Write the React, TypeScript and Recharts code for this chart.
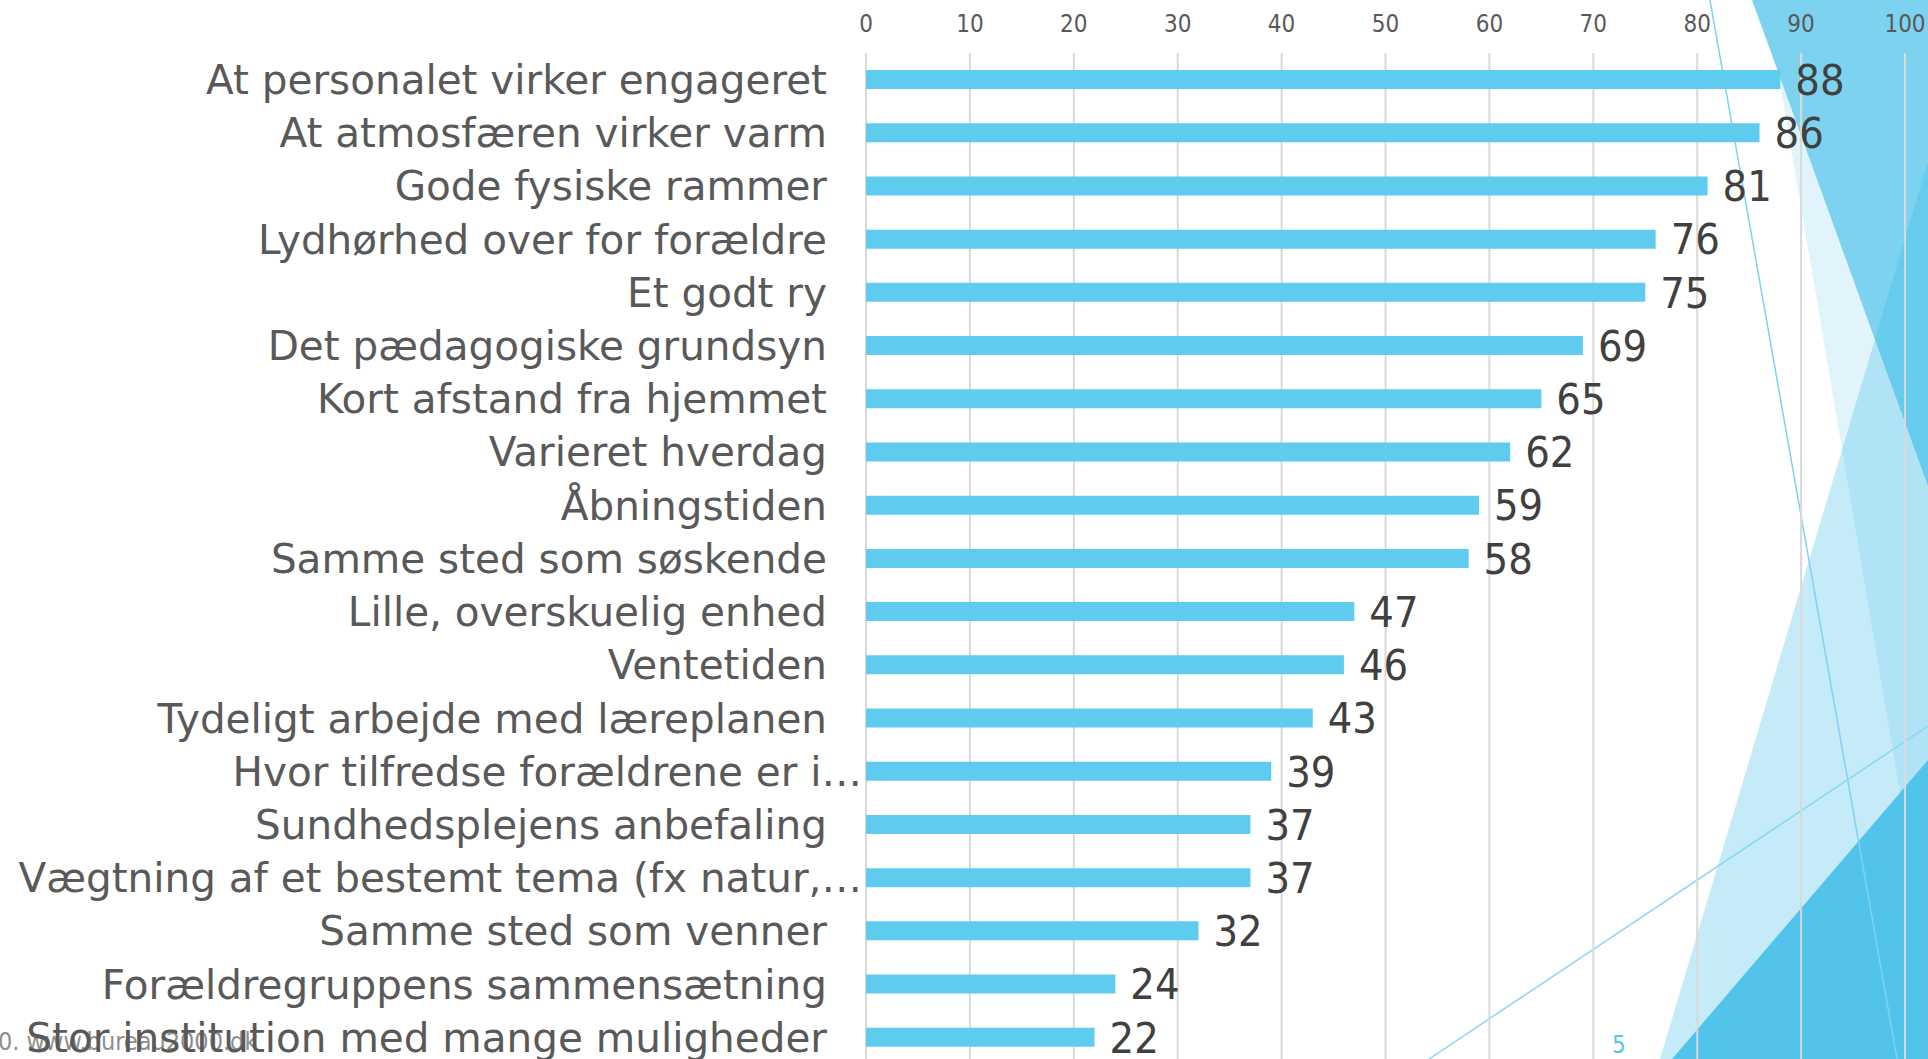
import { BarChart, Bar, XAxis, YAxis, CartesianGrid, LabelList } from 'recharts';

const categories = [
  'At personalet virker engageret',
  'At atmosfæren virker varm',
  'Gode fysiske rammer',
  'Lydhørhed over for forældre',
  'Et godt ry',
  'Det pædagogiske grundsyn',
  'Kort afstand fra hjemmet',
  'Varieret hverdag',
  'Åbningstiden',
  'Samme sted som søskende',
  'Lille, overskuelig enhed',
  'Ventetiden',
  'Tydeligt arbejde med læreplanen',
  'Hvor tilfredse forældrene er i…',
  'Sundhedsplejens anbefaling',
  'Vægtning af et bestemt tema (fx natur,…',
  'Samme sted som venner',
  'Forældregruppens sammensætning',
  'Stor institution med mange muligheder',
];

const values = [88, 86, 81, 76, 75, 69, 65, 62, 59, 58, 47, 46, 43, 39, 37, 37, 32, 24, 22];

const xTicks = [0, 10, 20, 30, 40, 50, 60, 70, 80, 90, 100];

const data = categories.map((label, i) => ({ label, value: values[i] }));

const LABEL_FONT = 'DejaVu Sans, sans-serif';
const NARROW_FONT = '"DejaVu Sans Condensed", "DejaVu Sans", sans-serif';

// category label; the clipped (…) labels sit a bit further right, as in the slide
function CategoryTick(props: any) {
  const { x, y, payload } = props;
  const clipped = String(payload.value).endsWith('…');
  return (
    <text
      x={x + (clipped ? 35 : 0)}
      y={y}
      dy="0.355em"
      textAnchor="end"
      fill="#595959"
      fontSize={40.5}
      fontFamily={LABEL_FONT}
    >
      {payload.value}
    </text>
  );
}

function ValueLabel(props: any) {
  const { x, y, width, height, value } = props;
  return (
    <text
      x={x + width + 15}
      y={y + height / 2}
      dy="0.355em"
      textAnchor="start"
      fill="#404040"
      fontSize={43}
      fontFamily={NARROW_FONT}
    >
      {value}
    </text>
  );
}

// slide theme background (facets on the right)
function Backdrop() {
  return (
    <svg width={1928} height={1059} style={{ position: 'absolute', left: 0, top: 0 }}>
      <polygon points="1766,0 1928,0 1928,958" fill="#c8ebf8" fillOpacity={0.55} />
      <polygon points="1752,0 1928,0 1928,486" fill="#7dd3ef" />
      <polygon points="1660,1059 1928,162 1928,1059" fill="rgb(40,181,230)" fillOpacity={0.27} />
      <polygon points="1672,1059 1928,760 1928,1059" fill="#52c3eb" />
      <line x1={1710} y1={0} x2={1897} y2={1059} stroke="#7fd3f1" strokeWidth={1.5} />
      <line x1={1429} y1={1059} x2={1928} y2={726} stroke="#8ad7f3" strokeWidth={1.5} />
      <text x={-2} y={1050} fill="#8e8e8e" fontSize={25} fontFamily={NARROW_FONT}>
        0. www.bureau2000.dk
      </text>
      <text x={1612} y={1053} fill="#5bc5ec" fontSize={24} fontFamily={NARROW_FONT}>
        5
      </text>
    </svg>
  );
}

export default function App() {
  return (
    <div
      style={{
        position: 'absolute',
        left: 0,
        top: 0,
        width: 1928,
        height: 1059,
        overflow: 'hidden',
        background: '#ffffff',
      }}
    >
      <Backdrop />
      <div style={{ position: 'absolute', left: 0, top: 0 }}>
        <BarChart
          width={1928}
          height={1064}
          data={data}
          layout="vertical"
          margin={{ top: 0, right: 23, bottom: 0, left: 0 }}
          barSize={19}
        >
          <CartesianGrid horizontal={false} stroke="#d9d9d9" strokeWidth={2} />
          <XAxis
            type="number"
            orientation="top"
            domain={[0, 100]}
            ticks={xTicks}
            height={53}
            tickLine={false}
            axisLine={false}
            tickMargin={15}
            tick={{ fill: '#595959', fontSize: 24, fontFamily: NARROW_FONT }}
          />
          <YAxis
            type="category"
            dataKey="label"
            width={866}
            interval={0}
            tickLine={false}
            axisLine={false}
            tickMargin={33}
            tick={<CategoryTick />}
          />
          <Bar dataKey="value" fill="#5fcbef" isAnimationActive={false}>
            <LabelList dataKey="value" content={<ValueLabel />} />
          </Bar>
        </BarChart>
      </div>
    </div>
  );
}
